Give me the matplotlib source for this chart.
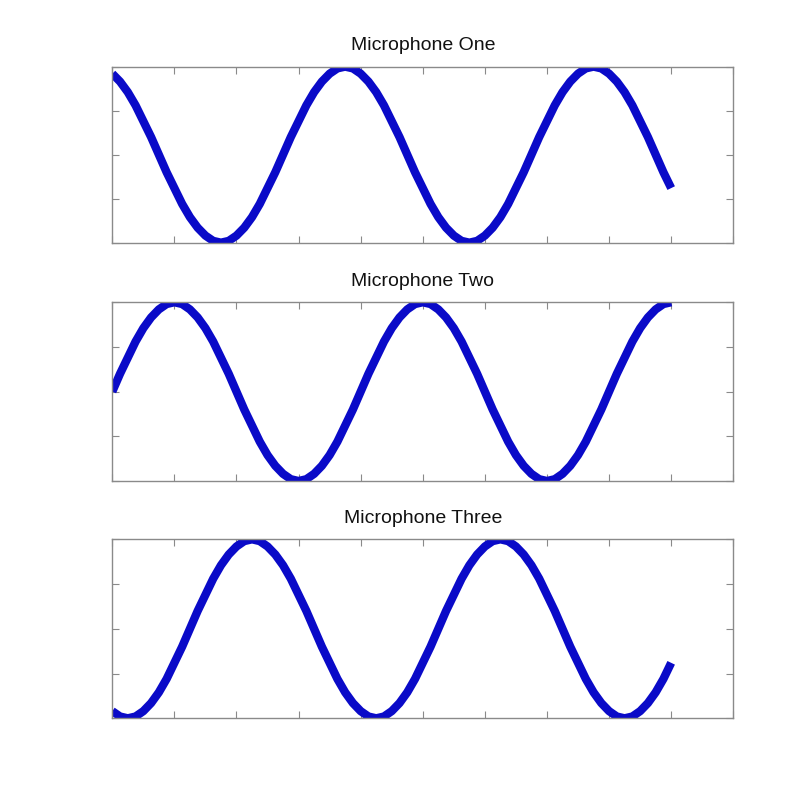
import numpy as np
import matplotlib.pyplot as plt

# signal samples, every 0.125 time units from 0 to 9
mic_one = [0.92, 0.83, 0.71, 0.56, 0.38, 0.20, 0.00, -0.20, -0.38, -0.56, -0.71, -0.83, -0.92, -0.98, -1.00, -0.98,
           -0.92, -0.83, -0.71, -0.56, -0.38, -0.20, 0.00, 0.20, 0.38, 0.56, 0.71, 0.83, 0.92, 0.98, 1.00, 0.98,
           0.92, 0.83, 0.71, 0.56, 0.38, 0.20, 0.00, -0.20, -0.38, -0.56, -0.71, -0.83, -0.92, -0.98, -1.00, -0.98,
           -0.92, -0.83, -0.71, -0.56, -0.38, -0.20, 0.00, 0.20, 0.38, 0.56, 0.71, 0.83, 0.92, 0.98, 1.00, 0.98,
           0.92, 0.83, 0.71, 0.56, 0.38, 0.20, 0.00, -0.20, -0.38]
mic_two = [0.00, 0.20, 0.38, 0.56, 0.71, 0.83, 0.92, 0.98, 1.00, 0.98, 0.92, 0.83, 0.71, 0.56, 0.38, 0.20,
           0.00, -0.20, -0.38, -0.56, -0.71, -0.83, -0.92, -0.98, -1.00, -0.98, -0.92, -0.83, -0.71, -0.56, -0.38, -0.20,
           0.00, 0.20, 0.38, 0.56, 0.71, 0.83, 0.92, 0.98, 1.00, 0.98, 0.92, 0.83, 0.71, 0.56, 0.38, 0.20,
           0.00, -0.20, -0.38, -0.56, -0.71, -0.83, -0.92, -0.98, -1.00, -0.98, -0.92, -0.83, -0.71, -0.56, -0.38, -0.20,
           0.00, 0.20, 0.38, 0.56, 0.71, 0.83, 0.92, 0.98, 1.00]
mic_three = [-0.92, -0.98, -1.00, -0.98, -0.92, -0.83, -0.71, -0.56, -0.38, -0.20, 0.00, 0.20, 0.38, 0.56, 0.71, 0.83,
             0.92, 0.98, 1.00, 0.98, 0.92, 0.83, 0.71, 0.56, 0.38, 0.20, 0.00, -0.20, -0.38, -0.56, -0.71, -0.83,
             -0.92, -0.98, -1.00, -0.98, -0.92, -0.83, -0.71, -0.56, -0.38, -0.20, 0.00, 0.20, 0.38, 0.56, 0.71, 0.83,
             0.92, 0.98, 1.00, 0.98, 0.92, 0.83, 0.71, 0.56, 0.38, 0.20, 0.00, -0.20, -0.38, -0.56, -0.71, -0.83,
             -0.92, -0.98, -1.00, -0.98, -0.92, -0.83, -0.71, -0.56, -0.38]
titles = ['Microphone One', 'Microphone Two', 'Microphone Three']

t = np.linspace(0, 9, len(mic_two))

plt.rcParams['font.family'] = ['Liberation Sans', 'DejaVu Sans']

fig = plt.figure(figsize=(7.98, 7.99), dpi=100)
fig.patch.set_facecolor('white')

boxes = [[0.1407, 0.6963, 0.7782, 0.2203],
         [0.1407, 0.3980, 0.7782, 0.2237],
         [0.1407, 0.1010, 0.7782, 0.2240]]

for box, title, sig in zip(boxes, titles, [mic_one, mic_two, mic_three]):
    ax = fig.add_axes(box)
    ax.plot(t, sig, color='#0a0ac8', linewidth=6.0,
            solid_capstyle='butt', solid_joinstyle='round')
    ax.set_xlim(0, 10)
    ax.set_ylim(-1, 1)
    ax.set_xticks(np.arange(0, 11))
    ax.set_yticks([-1, -0.5, 0, 0.5, 1])
    ax.tick_params(direction='in', length=5, width=0.8, color='#8a8a8a',
                   top=True, right=True, labelbottom=False, labelleft=False)
    for s in ax.spines.values():
        s.set_color('#8a8a8a')
        s.set_linewidth(1.0)
    ax.set_title(title, fontsize=14, pad=12, color='#111111')

plt.savefig('out.png', dpi=100)
